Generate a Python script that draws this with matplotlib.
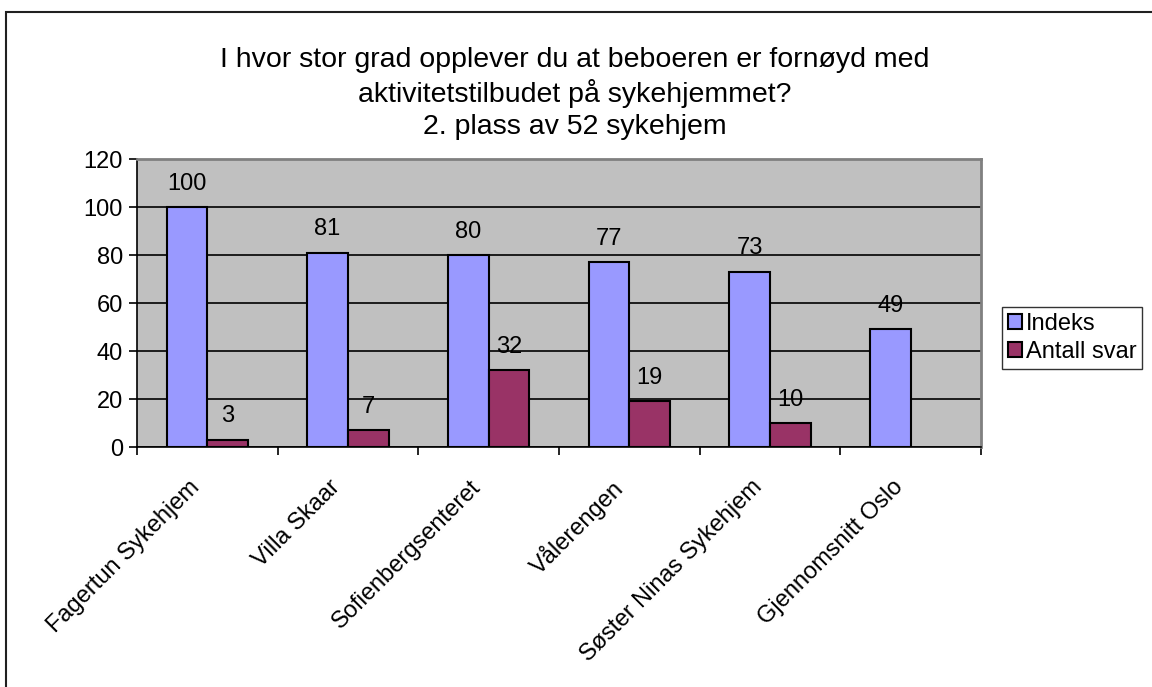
import matplotlib
matplotlib.use('Agg')
import matplotlib.pyplot as plt
import matplotlib.transforms as mtransforms
import numpy as np
from matplotlib.patches import Rectangle

# data
categories = ['Fagertun Sykehjem', 'Villa Skaar', 'Sofienbergsenteret',
              'Vålerengen', 'Søster Ninas Sykehjem', 'Gjennomsnitt Oslo']
indeks = [100, 81, 80, 77, 73, 49]
antall = [3, 7, 32, 19, 10, None]

title = ('I hvor stor grad opplever du at beboeren er fornøyd med\n'
         'aktivitetstilbudet på sykehjemmet?\n'
         '2. plass av 52 sykehjem')

plt.rcParams['font.family'] = ['Liberation Sans', 'DejaVu Sans']
FS = 17

fig = plt.figure(figsize=(11.52, 6.87), dpi=100)
# outer chart border (only top/left visible in the reference)
fig.patches.append(Rectangle((6 / 1152, -0.1), 1.2, 1 - 12 / 687 + 0.1,
                             transform=fig.transFigure, fill=False,
                             edgecolor='#202020', linewidth=1.5))

ax = fig.add_axes([137 / 1152, 1 - 447 / 687, (981 - 137) / 1152, (447 - 159) / 687])
ax.set_facecolor('#C0C0C0')

x = np.arange(len(categories))
w = 0.29
ax.bar(x - w / 2, indeks, w, color='#9999FF', edgecolor='black', linewidth=1.5,
       label='Indeks', zorder=3)
ant_x = [xi + w / 2 for xi, a in zip(x, antall) if a is not None]
ant_v = [a for a in antall if a is not None]
ax.bar(ant_x, ant_v, w, color='#993366', edgecolor='black', linewidth=1.5,
       label='Antall svar', zorder=3)

for xi, v in zip(x, indeks):
    ax.annotate(str(v), (xi - w / 2, v), xytext=(0, 9), textcoords='offset points',
                ha='center', va='bottom', fontsize=FS)
for xi, v in zip(ant_x, ant_v):
    ax.annotate(str(v), (xi, v), xytext=(0, 9), textcoords='offset points',
                ha='center', va='bottom', fontsize=FS)

ax.set_xlim(-0.5, len(categories) - 0.5)
ax.set_ylim(0, 120)
ax.set_yticks(range(0, 121, 20))
ax.yaxis.grid(True, color='black', linewidth=1.2, zorder=0)
ax.tick_params(axis='y', labelsize=FS, length=6, width=1.2, pad=4)

ax.set_xticks(np.arange(-0.5, len(categories), 1))
ax.set_xticklabels([])
ax.set_xticks(x, minor=True)
ax.set_xticklabels(categories, minor=True, rotation=45, ha='right',
                   rotation_mode='anchor', fontsize=FS)
ax.tick_params(axis='x', which='major', length=6, width=1.2)
ax.tick_params(axis='x', which='minor', length=0, pad=21)
shift = mtransforms.ScaledTranslation(-0.19, 0, fig.dpi_scale_trans)
for lbl in ax.get_xticklabels(minor=True):
    lbl.set_transform(lbl.get_transform() + shift)

for s in ['top', 'right']:
    ax.spines[s].set_color('#808080')
    ax.spines[s].set_linewidth(2)
for s in ['left', 'bottom']:
    ax.spines[s].set_color('black')
    ax.spines[s].set_linewidth(1.2)

fig.text(575 / 1152, 1 - 47 / 687, title, ha='center', va='top', fontsize=20.5,
         linespacing=1.27)

leg = ax.legend(loc='upper left', bbox_to_anchor=(1002 / 1152, 1 - 307 / 687),
                bbox_transform=fig.transFigure, fontsize=FS, frameon=True,
                fancybox=False, edgecolor='black', handlelength=0.6,
                handleheight=0.6, handletextpad=0.15, borderpad=0.25,
                labelspacing=0.25, borderaxespad=0)
leg.get_frame().set_linewidth(1)

fig.savefig('out.png', dpi=100)
